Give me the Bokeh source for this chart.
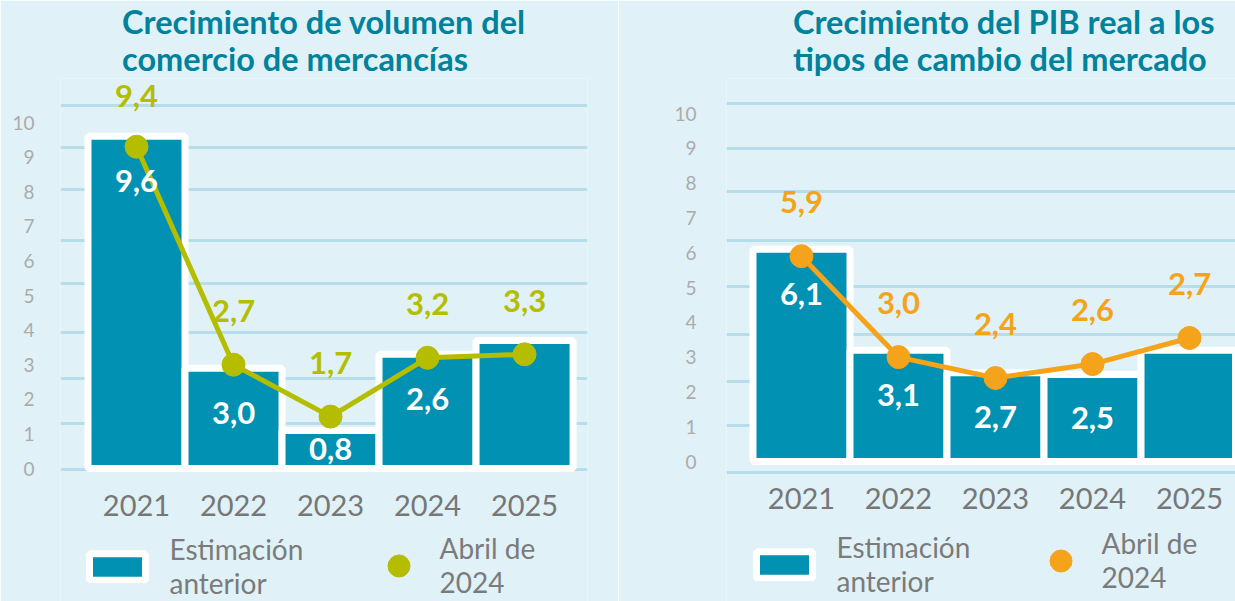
from bokeh.plotting import figure
from bokeh.models import Range1d, FixedTicker, ColumnDataSource, LabelSet, Legend, LegendItem
from bokeh.layouts import row
from bokeh.core.properties import value
from bokeh.embed import file_html
from bokeh.resources import INLINE

# ---------------- data ----------------
years = ["2021", "2022", "2023", "2024", "2025"]

trade_prev = [9.6, 2.9, 1.1, 3.3, 3.7]          # bar heights
trade_apr = [9.3, 3.0, 1.5, 3.2, 3.3]           # point heights
trade_prev_labels = ["9,6", "3,0", "0,8", "2,6", ""]
trade_apr_labels = ["9,4", "2,7", "1,7", "3,2", "3,3"]

gdp_prev = [6.1, 3.2, 2.55, 2.5, 3.2]
gdp_apr = [5.9, 3.0, 2.4, 2.8, 3.55]
gdp_prev_labels = ["6,1", "3,1", "2,7", "2,5", ""]
gdp_apr_labels = ["5,9", "3,0", "2,4", "2,6", "2,7"]

y_ticks = list(range(0, 11))

title_left = "Crecimiento de volumen del\ncomercio de mercancías"
title_right = "Crecimiento del PIB real a los\ntipos de cambio del mercado"
legend_prev = "Estimación\nanterior"
legend_apr = "Abril de\n2024"

# ---------------- style ----------------
BG = "#e0f2f7"
BAR = "#0091b3"
LIME = "#b5bd00"
ORANGE = "#f5a31a"
TITLE = "#00829c"
GRID = "#b6deea"
FONT = "Lato"


def panel(title, prev, apr, prev_lbl, apr_lbl, pcolor, width, border_left,
          border_right, x_range, y_range, grid_levels, standoff,
          leg1_x, leg2_x, leg1_y, leg2_y):
    xs = list(range(len(years)))
    p = figure(width=width, height=601, output_backend="svg", toolbar_location=None,
               x_range=Range1d(*x_range), y_range=Range1d(*y_range),
               min_border_left=border_left, min_border_right=border_right,
               min_border_top=0, min_border_bottom=0)
    p.background_fill_color = BG
    p.border_fill_color = BG
    p.outline_line_color = None

    p.title.text = title
    p.title.text_font = FONT
    p.title.text_font_size = "32.5px"
    p.title.text_font_style = "bold"
    p.title.text_color = TITLE
    p.title.text_line_height = 0.96
    p.title.standoff = 0

    # axes
    p.yaxis.ticker = FixedTicker(ticks=y_ticks)
    p.yaxis.axis_line_color = None
    p.yaxis.major_tick_line_color = None
    p.yaxis.minor_tick_line_color = None
    p.yaxis.major_label_standoff = standoff
    p.yaxis.major_label_text_font = FONT
    p.yaxis.major_label_text_font_size = "19px"
    p.yaxis.major_label_text_color = "#ababab"

    p.xaxis.ticker = FixedTicker(ticks=xs)
    p.xaxis.major_label_overrides = {i: y for i, y in enumerate(years)}
    p.xaxis.fixed_location = 0
    p.xaxis.axis_line_color = None
    p.xaxis.major_tick_line_color = None
    p.xaxis.minor_tick_line_color = None
    p.xaxis.major_label_standoff = 20
    p.xaxis.major_label_text_font = FONT
    p.xaxis.major_label_text_font_size = "29px"
    p.xaxis.major_label_text_color = "#777777"

    p.xgrid.visible = False
    p.ygrid.ticker = FixedTicker(ticks=grid_levels)
    p.ygrid.grid_line_color = GRID
    p.ygrid.grid_line_width = 3

    bars = p.vbar(x=xs, top=prev, bottom=0, width=1.0, fill_color=BAR,
                  line_color="#ffffff", line_width=7)
    p.line(xs, apr, line_color=pcolor, line_width=5)
    pts = p.scatter(xs, apr, size=23, fill_color=pcolor, line_color=pcolor)

    y_top = y_range[1]
    bar_lbl_y = [max(v - 1.3, v / 2) for v in prev]
    pt_lbl_y = [min(v + 1.55, y_top - 0.5) for v in apr]
    src_b = ColumnDataSource(dict(x=xs, y=bar_lbl_y, t=prev_lbl))
    src_p = ColumnDataSource(dict(x=xs, y=pt_lbl_y, t=apr_lbl))
    for src, col in ((src_b, "white"), (src_p, pcolor)):
        p.add_layout(LabelSet(x="x", y="y", text="t", source=src,
                              text_font=value(FONT), text_font_style="bold",
                              text_font_size="31px", text_color=col,
                              text_align="center", text_baseline="middle"))

    common = dict(border_line_color=None, background_fill_alpha=0, padding=0,
                  margin=0, label_text_font=FONT, label_text_font_size="28px",
                  label_text_color="#7b7b7b")
    l1 = Legend(items=[LegendItem(label=legend_prev, renderers=[bars])],
                location=(leg1_x, leg1_y), glyph_width=70, glyph_height=33,
                label_standoff=18, **common)
    l2 = Legend(items=[LegendItem(label=legend_apr, renderers=[pts])],
                location=(leg2_x, leg2_y), glyph_width=55, glyph_height=55,
                label_standoff=14, **common)
    p.add_layout(l1)
    p.add_layout(l2)
    return p


left = panel(title_left, trade_prev, trade_apr, trade_prev_labels, trade_apr_labels,
             LIME, 618, 60, 31, (-0.7835, 4.649), (-3.844, 11.272),
             [10.49, 9.28, 8.06, 6.59, 5.35, 3.93, 2.60, 1.30, -0.03], 20,
             21.5, 310.5, 1, 2)
left.title.align = "center"

right = panel(title_right, gdp_prev, gdp_apr, gdp_prev_labels, gdp_apr_labels,
              ORANGE, 617, 108, 0, (-0.773, 4.474), (-4.023, 11.006),
              [10.29, 8.99, 7.76, 6.35, 5.03, 3.65, 2.30, 1.03, -0.32], 24,
              22.5, 306.5, 3, 7)
right.title.align = "right"
right.title.offset = 21

layout = row(left, right)
html = file_html(layout, INLINE)
html = html.replace("<body>", '<body style="background-color:%s;">' % BG, 1)
open("out.html", "w").write(html)
